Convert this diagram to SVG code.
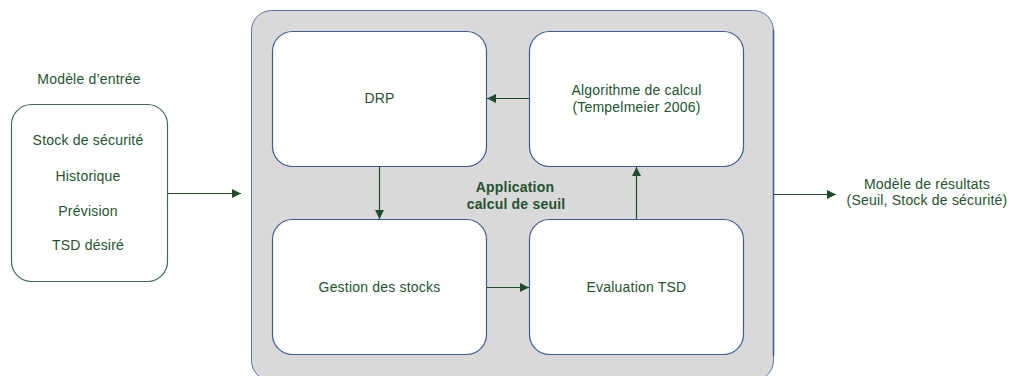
<svg xmlns="http://www.w3.org/2000/svg" width="1010" height="376" viewBox="0 0 1010 376">
<style>
.t{font-family:"Liberation Sans",Arial,sans-serif;font-size:14px;fill:#24532f;text-anchor:middle;letter-spacing:0.2px}
.b{font-weight:bold}
.node{fill:#ffffff;stroke:#3d5b95;stroke-width:1.2}
.conn{stroke:#1f4d2b;stroke-width:1.2;fill:none;marker-end:url(#ah)}
</style>
<defs>
<marker id="ah" viewBox="0 0 10 10" refX="10" refY="5" markerWidth="9" markerHeight="9" markerUnits="userSpaceOnUse" orient="auto">
<path d="M0,0 L10,5 L0,10 z" fill="#1f4d2b"/>
</marker>
</defs>
<rect width="1010" height="376" fill="#ffffff"/>
<g id="application">
<rect x="251.5" y="10.5" width="522" height="370" rx="20" ry="20" fill="#d9d9d9" stroke="#5a74aa" stroke-width="1"/>
<line x1="773.5" y1="30" x2="773.5" y2="356" stroke="#3d5b95" stroke-width="1.5"/>
<text class="t b" x="515" y="191.5">Application</text>
<text class="t b" x="516" y="208.5">calcul de seuil</text>
</g>
<g id="input">
<text class="t" x="89" y="84">Modèle d’entrée</text>
<rect x="11.5" y="104.5" width="156" height="177" rx="20" ry="20" fill="#ffffff" stroke="#3f6b4f" stroke-width="1.2"/>
<text class="t" x="88" y="144.5">Stock de sécurité</text>
<text class="t" x="88" y="180.5">Historique</text>
<text class="t" x="88" y="216">Prévision</text>
<text class="t" x="88" y="250">TSD désiré</text>
</g>
<g id="drp">
<rect class="node" x="272.5" y="31.5" width="214" height="135" rx="20" ry="20"/>
<text class="t" x="379.5" y="103">DRP</text>
</g>
<g id="algo">
<rect class="node" x="529.5" y="31.5" width="214" height="135" rx="20" ry="20"/>
<text class="t" x="636.5" y="95">Algorithme de calcul</text>
<text class="t" x="636.5" y="112">(Tempelmeier 2006)</text>
</g>
<g id="gestion">
<rect class="node" x="272.5" y="219.5" width="214" height="135" rx="20" ry="20"/>
<text class="t" x="379.5" y="291.5">Gestion des stocks</text>
</g>
<g id="evaluation">
<rect class="node" x="529.5" y="219.5" width="214" height="135" rx="20" ry="20"/>
<text class="t" x="636.5" y="291.5">Evaluation TSD</text>
</g>
<g id="output">
<text class="t" x="927" y="188.5">Modèle de résultats</text>
<text class="t" x="927" y="205">(Seuil, Stock de sécurité)</text>
</g>
<g id="connectors">
<line class="conn" x1="168" y1="193.5" x2="241" y2="193.5"/>
<line class="conn" x1="529" y1="98.5" x2="487" y2="98.5"/>
<line class="conn" x1="379.5" y1="167" x2="379.5" y2="219"/>
<line class="conn" x1="487" y1="287.5" x2="529" y2="287.5"/>
<line class="conn" x1="636.5" y1="219" x2="636.5" y2="167"/>
<line class="conn" x1="774" y1="194.5" x2="836" y2="194.5"/>
</g>
</svg>
